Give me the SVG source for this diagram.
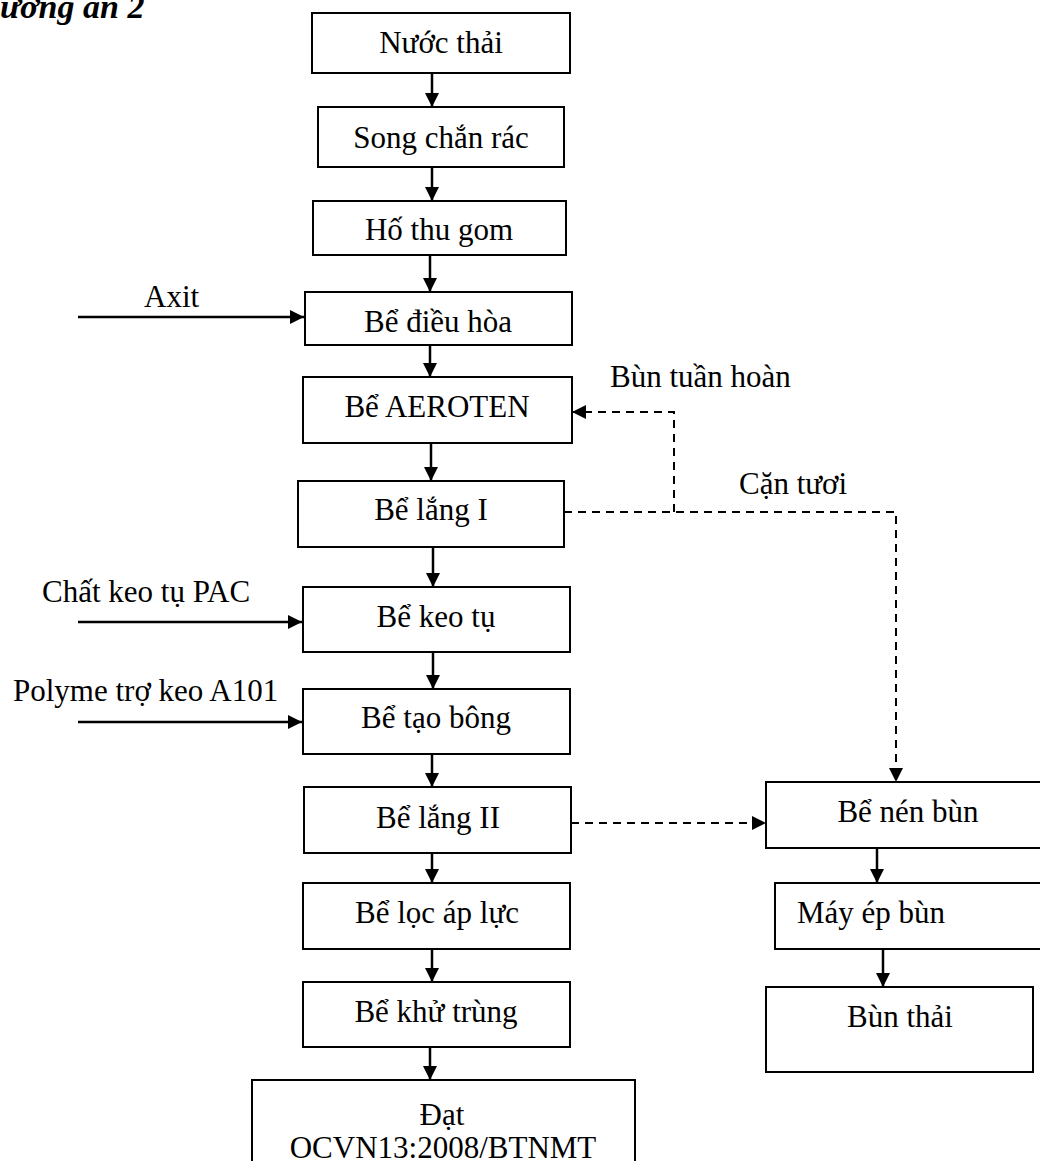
<svg xmlns="http://www.w3.org/2000/svg" width="1040" height="1161" viewBox="0 0 1040 1161">
  <style>
    .box { fill: #fff; stroke: #000; stroke-width: 2; }
    .lbl { font-family: "Liberation Serif", "Times New Roman", serif; font-size: 31px; fill: #000; }
    .mid { text-anchor: middle; }
    .flow { fill: none; stroke: #000; stroke-width: 2.5; }
    .dash { fill: none; stroke: #000; stroke-width: 2; stroke-dasharray: 8 6; }
    .title { font-family: "Liberation Serif", "Times New Roman", serif; font-size: 34px; font-weight: bold; font-style: italic; fill: #000; }
  </style>
  <defs>
    <marker id="head" markerUnits="userSpaceOnUse" markerWidth="14" markerHeight="14" refX="14" refY="7" orient="auto">
      <path d="M0,0 L14,7 L0,14 z" fill="#000"/>
    </marker>
  </defs>
  <rect width="1040" height="1161" fill="#fff"/>

  <text class="title" x="0" y="18">ương án 2</text>

  <!-- main treatment line -->
  <g id="nuoc-thai"><rect class="box" x="312" y="13" width="258" height="60"/><text class="lbl mid" x="441" y="53">Nước thải</text></g>
  <g id="song-chan-rac"><rect class="box" x="318" y="107" width="246" height="60"/><text class="lbl mid" x="441" y="148">Song chắn rác</text></g>
  <g id="ho-thu-gom"><rect class="box" x="313" y="201" width="253" height="54"/><text class="lbl mid" x="439" y="240">Hố thu gom</text></g>
  <g id="be-dieu-hoa"><rect class="box" x="305" y="292" width="267" height="53"/><text class="lbl mid" x="438" y="332">Bể điều hòa</text></g>
  <g id="be-aeroten"><rect class="box" x="303" y="377" width="269" height="66"/><text class="lbl mid" x="437" y="417">Bể AEROTEN</text></g>
  <g id="be-lang-1"><rect class="box" x="298" y="481" width="266" height="66"/><text class="lbl mid" x="431" y="520">Bể lắng I</text></g>
  <g id="be-keo-tu"><rect class="box" x="303" y="587" width="267" height="65"/><text class="lbl mid" x="436" y="627">Bể keo tụ</text></g>
  <g id="be-tao-bong"><rect class="box" x="303" y="689" width="267" height="65"/><text class="lbl mid" x="436" y="728">Bể tạo bông</text></g>
  <g id="be-lang-2"><rect class="box" x="304" y="787" width="267" height="66"/><text class="lbl mid" x="438" y="828">Bể lắng II</text></g>
  <g id="be-loc-ap-luc"><rect class="box" x="303" y="883" width="267" height="66"/><text class="lbl mid" x="437" y="923">Bể lọc áp lực</text></g>
  <g id="be-khu-trung"><rect class="box" x="303" y="982" width="267" height="65"/><text class="lbl mid" x="436" y="1022">Bể khử trùng</text></g>
  <g id="dat-qcvn"><rect class="box" x="252" y="1080" width="383" height="100"/><text class="lbl mid" x="442" y="1125">Đạt</text><text class="lbl mid" x="443" y="1158">OCVN13:2008/BTNMT</text></g>

  <!-- sludge line -->
  <g id="be-nen-bun"><rect class="box" x="766" y="782" width="280" height="66"/><text class="lbl mid" x="908" y="822">Bể nén bùn</text></g>
  <g id="may-ep-bun"><rect class="box" x="775" y="883" width="270" height="66"/><text class="lbl" x="797" y="923">Máy ép bùn</text></g>
  <g id="bun-thai"><rect class="box" x="766" y="987" width="267" height="85"/><text class="lbl mid" x="900" y="1027">Bùn thải</text></g>

  <!-- dosing and flow labels -->
  <g id="axit"><text class="lbl" x="144" y="307">Axit</text></g>
  <g id="pac"><text class="lbl" x="42" y="602">Chất keo tụ PAC</text></g>
  <g id="polyme"><text class="lbl" x="13" y="701">Polyme trợ keo A101</text></g>
  <g id="bun-tuan-hoan"><text class="lbl" x="610" y="387">Bùn tuần hoàn</text></g>
  <g id="can-tuoi"><text class="lbl" x="739" y="494">Cặn tươi</text></g>

  <g id="connectors">
    <line class="flow" x1="432" y1="73" x2="432" y2="107" marker-end="url(#head)"/>
    <line class="flow" x1="432" y1="167" x2="432" y2="201" marker-end="url(#head)"/>
    <line class="flow" x1="430" y1="255" x2="430" y2="292" marker-end="url(#head)"/>
    <line class="flow" x1="430" y1="345" x2="430" y2="377" marker-end="url(#head)"/>
    <line class="flow" x1="431" y1="443" x2="431" y2="481" marker-end="url(#head)"/>
    <line class="flow" x1="433" y1="547" x2="433" y2="587" marker-end="url(#head)"/>
    <line class="flow" x1="433" y1="652" x2="433" y2="689" marker-end="url(#head)"/>
    <line class="flow" x1="432" y1="754" x2="432" y2="787" marker-end="url(#head)"/>
    <line class="flow" x1="432" y1="853" x2="432" y2="883" marker-end="url(#head)"/>
    <line class="flow" x1="432" y1="949" x2="432" y2="982" marker-end="url(#head)"/>
    <line class="flow" x1="430" y1="1047" x2="430" y2="1080" marker-end="url(#head)"/>

    <line class="flow" x1="78" y1="317" x2="304" y2="317" marker-end="url(#head)"/>
    <line class="flow" x1="78" y1="622" x2="302" y2="622" marker-end="url(#head)"/>
    <line class="flow" x1="78" y1="722" x2="302" y2="722" marker-end="url(#head)"/>

    <path class="dash" d="M564,512 H896 V782" marker-end="url(#head)"/>
    <path class="dash" d="M674,512 V412 H572" marker-end="url(#head)"/>
    <line class="dash" x1="571" y1="823" x2="766" y2="823" marker-end="url(#head)"/>

    <line class="flow" x1="877" y1="848" x2="877" y2="883" marker-end="url(#head)"/>
    <line class="flow" x1="883" y1="949" x2="883" y2="987" marker-end="url(#head)"/>
  </g>
</svg>
